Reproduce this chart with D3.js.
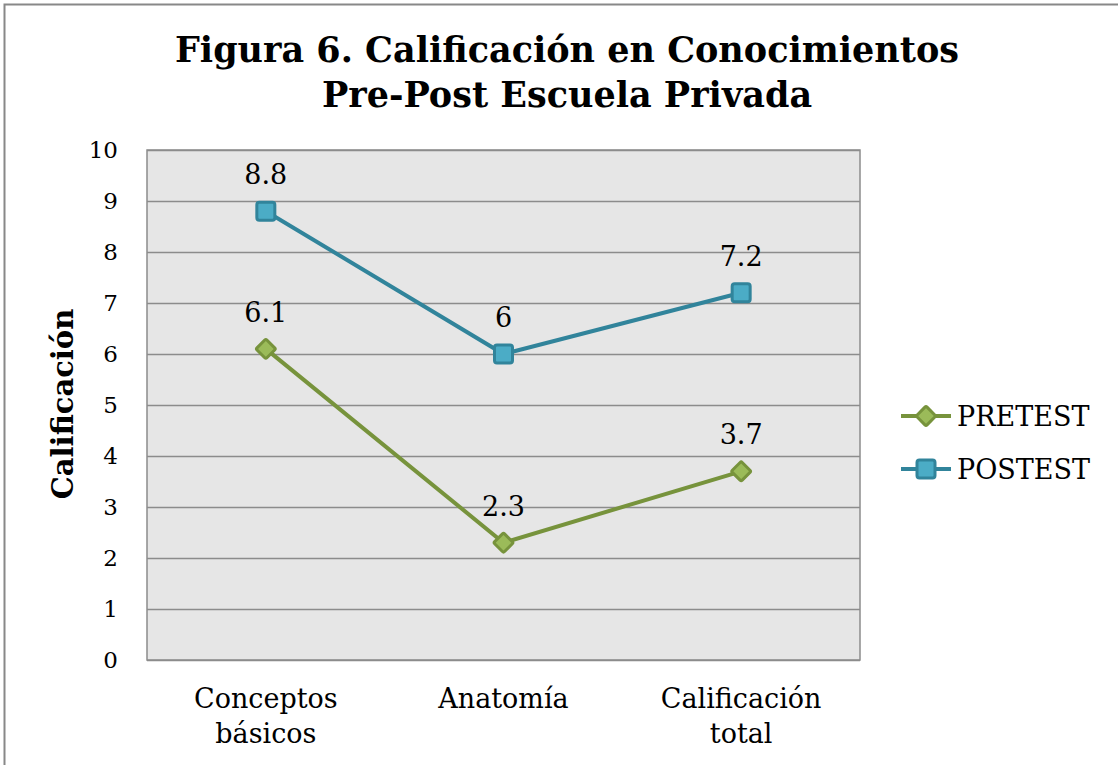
<!DOCTYPE html>
<html>
<head>
<meta charset="utf-8">
<script src="https://cdn.jsdelivr.net/npm/d3@7"></script>
<style>
  body { margin: 0; background: #fff; }
  svg text { font-family: "DejaVu Serif", "Liberation Serif", serif; }
</style>
</head>
<body>
<svg id="chart"></svg>
<script>
const categories = [["Conceptos", "básicos"], ["Anatomía"], ["Calificación", "total"]];
const seriesNames = ["PRETEST", "POSTEST"];
const pretest = [6.1, 2.3, 3.7];
const postest = [8.8, 6, 7.2];
const yTicks = [0, 1, 2, 3, 4, 5, 6, 7, 8, 9, 10];

const width = 1118;
const height = 765;
const margin = {top: 150, right: 258, bottom: 105, left: 147};

const svg = d3.select("#chart")
              .attr("width", width)
              .attr("height", height);

// outer frame
svg.append("path")
    .attr("d", `M4.5,${height} V4.5 H${width}`)
    .attr("fill", "none")
    .attr("stroke", "#888")
    .attr("stroke-width", 2);

const x = d3.scaleBand()
            .domain(d3.range(categories.length))
            .range([margin.left, width - margin.right]);
const y = d3.scaleLinear()
            .domain([0, 10])
            .range([height - margin.bottom, margin.top]);

// plot area
svg.append("rect")
    .attr("x", margin.left)
    .attr("y", margin.top)
    .attr("width", width - margin.left - margin.right)
    .attr("height", height - margin.top - margin.bottom)
    .attr("fill", "#e6e6e6")
    .attr("stroke", "#8c8c8c")
    .attr("stroke-width", 1.5);

// grid
svg.append("g").selectAll("line")
    .data(yTicks)
    .enter().append("line")
      .attr("x1", margin.left)
      .attr("x2", width - margin.right)
      .attr("y1", d => Math.round(y(d)) + 0.5)
      .attr("y2", d => Math.round(y(d)) + 0.5)
      .attr("stroke", "#8c8c8c")
      .attr("stroke-width", 1.5);

// y axis labels
const yAxis = svg.append("g")
    .attr("transform", `translate(${margin.left},0)`)
    .call(d3.axisLeft(y).tickValues(yTicks).tickSize(0).tickPadding(29));
yAxis.select(".domain").remove();
yAxis.selectAll("text")
    .attr("font-family", "DejaVu Serif")
    .attr("font-size", 23)
    .attr("fill", "#000");

// x axis labels
const xLabels = svg.append("g").selectAll("text")
    .data(categories)
    .enter().append("text")
      .attr("x", (d, i) => x(i) + x.bandwidth() / 2)
      .attr("y", height - margin.bottom + 48)
      .attr("text-anchor", "middle")
      .attr("font-size", 27)
      .attr("fill", "#000");
xLabels.selectAll("tspan")
    .data(d => d)
    .enter().append("tspan")
      .attr("x", function() { return this.parentNode.getAttribute("x"); })
      .attr("dy", (d, i) => i === 0 ? 0 : 35)
      .text(d => d);

// title
const title = svg.append("text")
    .attr("x", 567)
    .attr("y", 62)
    .attr("text-anchor", "middle")
    .attr("font-size", 35)
    .attr("font-weight", "bold")
    .attr("fill", "#000");
title.append("tspan").attr("x", 567).text("Figura 6. Calificación en Conocimientos");
title.append("tspan").attr("x", 567).attr("dy", 45).text("Pre-Post Escuela Privada");

// y title
svg.append("text")
    .attr("transform", "translate(73,404) rotate(-90)")
    .attr("text-anchor", "middle")
    .attr("font-size", 29)
    .attr("font-weight", "bold")
    .attr("fill", "#000")
    .text("Calificación");

const colors = {
  PRETEST: {line: "#77933c", fill: "#9bbb59"},
  POSTEST: {line: "#31849b", fill: "#4bacc6"}
};
const seriesData = [pretest, postest];

const line = d3.line()
    .x((d, i) => x(i) + x.bandwidth() / 2)
    .y(d => y(d));

function drawMarker(g, name, cx, cy) {
  if (name === "PRETEST") {
    g.append("rect")
      .attr("x", cx - 7).attr("y", cy - 7)
      .attr("width", 14).attr("height", 14)
      .attr("rx", 1.5)
      .attr("transform", `rotate(45,${cx},${cy})`)
      .attr("fill", colors[name].fill)
      .attr("stroke", colors[name].line)
      .attr("stroke-width", 3);
  } else {
    g.append("rect")
      .attr("x", cx - 9).attr("y", cy - 9)
      .attr("width", 18).attr("height", 18)
      .attr("rx", 2.5)
      .attr("fill", colors[name].fill)
      .attr("stroke", colors[name].line)
      .attr("stroke-width", 3);
  }
}

seriesNames.forEach(function(name, s) {
  const vals = seriesData[s];
  svg.append("path")
      .datum(vals)
      .attr("fill", "none")
      .attr("stroke", colors[name].line)
      .attr("stroke-width", 4)
      .attr("d", line);
  const g = svg.append("g");
  vals.forEach(function(v, i) {
    drawMarker(g, name, x(i) + x.bandwidth() / 2, y(v));
  });
  svg.append("g").selectAll("text")
      .data(vals)
      .enter().append("text")
        .attr("x", (d, i) => x(i) + x.bandwidth() / 2)
        .attr("y", d => y(d) - 27)
        .attr("text-anchor", "middle")
        .attr("font-size", 27)
        .attr("fill", "#000")
        .text(d => d);
});

// legend
const legend = svg.append("g");
seriesNames.forEach(function(name, i) {
  const ly = 416 + i * 53;
  legend.append("line")
      .attr("x1", 901).attr("x2", 951)
      .attr("y1", ly).attr("y2", ly)
      .attr("stroke", colors[name].line)
      .attr("stroke-width", 4);
  drawMarker(legend, name, 926, ly);
  legend.append("text")
      .attr("x", 957)
      .attr("y", ly + 10)
      .attr("font-size", 27)
      .attr("fill", "#000")
      .text(name);
});
</script>
</body>
</html>
